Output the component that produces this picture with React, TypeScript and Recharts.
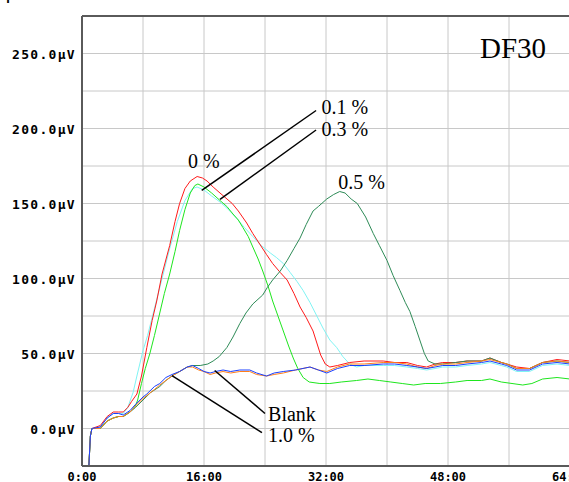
import React from 'react';
import { LineChart, Line, XAxis, YAxis, CartesianGrid, ReferenceLine, ReferenceDot } from 'recharts';

type Pt = [number, number];

// time in minutes, signal in µV
const xTicks = [0, 8, 16, 24, 32, 40, 48, 56, 64];
const yTicks = [-25, 0, 25, 50, 75, 100, 125, 150, 175, 200, 225, 250, 275];

const blank: Pt[] = [
  [0.9, -25], [1.1, -5], [1.3, 0], [2.4, 1], [3.3, 7], [4.1, 10], [4.8, 10], [5.4, 9], [6.3, 12], [7.0, 16],
  [8.0, 21], [8.5, 23], [9.5, 28], [10.2, 30], [11.0, 34], [11.8, 36], [12.8, 38], [13.8, 41], [14.5, 42],
  [15.3, 40], [16.0, 38], [16.8, 37], [17.5, 38], [18.5, 39], [19.5, 38], [20.7, 39], [22.0, 39], [22.9, 37],
  [24.2, 35], [25.2, 37], [26.4, 38], [28.0, 39], [29.9, 41], [31.0, 39], [32.1, 37], [33.5, 40], [35.1, 42],
  [37.0, 42], [39.5, 43], [41.0, 43], [42.6, 42], [44.0, 41], [45.2, 40], [46.3, 41], [47.3, 42], [49.0, 42],
  [50.5, 43], [52.4, 44], [53.5, 45], [55.0, 43], [55.7, 42], [57.0, 39], [58.7, 39], [60.4, 43], [62.3, 44], [64, 43],
];

const onePercent: Pt[] = [
  [0.9, -25], [1.1, -5], [1.3, 0], [2.4, 0], [3.3, 5], [4.1, 7], [4.8, 8], [5.4, 8], [6.3, 11], [7.0, 15],
  [8.0, 20], [8.5, 22], [9.5, 26], [10.2, 29], [11.0, 32], [11.8, 35], [12.8, 38], [13.8, 41], [14.5, 41],
  [15.3, 39], [16.0, 38], [16.8, 36], [17.5, 37], [18.5, 38], [19.5, 37], [20.7, 38], [22.0, 38], [22.9, 36],
  [24.2, 35], [25.2, 36], [26.4, 37], [28.0, 39], [29.9, 41], [31.0, 39], [32.1, 38], [33.5, 41], [35.1, 43],
  [37.0, 43], [39.5, 44], [41.0, 44], [42.6, 43], [44.0, 41], [45.2, 40], [46.3, 42], [47.3, 43], [49.0, 43],
  [50.5, 44], [52.4, 45], [53.5, 46], [55.0, 44], [55.7, 43], [57.0, 40], [58.7, 40], [60.4, 44], [62.3, 45], [64, 44],
];

const zeroPercent: Pt[] = [
  [0.9, -25], [1.1, -5], [1.3, 0], [2.4, 2], [3.3, 8], [4.1, 11], [4.8, 11], [5.4, 11], [6.0, 14], [6.5, 18],
  [7.2, 23], [7.8, 35], [8.5, 54], [9.2, 72], [9.8, 85], [10.5, 103], [11.5, 122], [12.2, 138], [12.8, 150],
  [13.5, 160], [14.2, 165], [15.1, 168], [15.8, 167], [16.4, 165], [17.2, 161], [18.1, 157], [19.7, 150],
  [20.5, 145], [21.6, 137], [22.4, 130], [23.3, 123], [24.2, 116], [25.0, 110], [26.0, 104], [26.9, 99],
  [27.8, 90], [28.6, 81], [29.4, 74], [30.3, 65], [30.8, 57], [31.3, 49], [31.9, 43], [32.5, 41], [33.5, 42],
  [35.1, 44], [37.0, 45], [39.5, 45], [41.0, 44], [42.6, 44], [44.0, 42], [45.2, 41], [46.3, 43], [47.3, 44],
  [49.0, 44], [50.5, 45], [52.4, 45], [53.5, 47], [55.0, 44], [55.7, 43], [57.0, 41], [58.7, 40], [60.4, 44],
  [62.3, 46], [64, 45],
];

const pointOne: Pt[] = [
  [0.9, -25], [1.1, -5], [1.3, 0], [2.4, 0], [3.3, 5], [4.1, 7], [4.8, 8], [5.4, 8], [6.3, 11], [7.0, 15],
  [7.3, 19], [7.8, 30], [8.3, 40], [8.9, 50], [9.5, 62], [10.2, 77], [10.8, 90], [11.5, 103], [12.2, 118],
  [12.8, 132], [13.5, 146], [14.2, 157], [14.8, 162], [15.2, 163], [16.0, 161], [17.0, 157], [18.1, 152],
  [19.0, 148], [19.8, 143], [20.5, 139], [21.1, 134], [21.8, 128], [22.4, 121], [23.1, 113], [23.7, 105],
  [24.4, 95], [25.0, 85], [25.7, 75], [26.4, 65], [27.1, 55], [27.7, 47], [28.3, 40], [29.0, 34], [29.8, 31],
  [31.2, 30], [32.5, 30], [34.0, 31], [36.0, 32], [37.5, 33], [39.0, 32], [40.5, 31], [42.0, 30], [43.5, 29],
  [45.0, 30], [47.0, 30], [49.0, 31], [50.5, 32], [52.4, 32], [53.5, 33], [55.0, 31], [57.8, 29], [59.0, 30],
  [60.4, 33], [62.3, 34], [64, 33],
];

const pointThree: Pt[] = [
  [0.9, -25], [1.1, -5], [1.3, 0], [2.4, 1], [3.3, 7], [4.1, 10], [4.8, 10], [5.4, 10], [6.0, 14], [6.7, 24],
  [7.2, 35], [8.0, 52], [8.6, 62], [9.5, 80], [10.5, 100], [11.5, 120], [12.5, 138], [13.5, 152], [14.5, 160],
  [15.1, 161], [16.0, 159], [17.0, 155], [18.1, 151], [19.2, 146], [20.3, 140], [21.3, 134], [22.4, 128],
  [23.5, 122], [24.7, 117], [25.5, 114], [26.4, 110], [27.3, 104], [28.2, 98], [29.0, 92], [29.9, 84],
  [30.8, 75], [31.6, 67], [32.5, 59], [33.4, 54], [34.2, 48], [35.1, 43], [36.0, 41], [37.0, 42], [39.5, 42],
  [41.0, 42], [42.6, 41], [44.0, 40], [45.2, 39], [46.3, 40], [47.3, 41], [49.0, 41], [50.5, 42], [52.4, 43],
  [53.5, 44], [55.0, 42], [55.7, 41], [57.0, 38], [58.7, 38], [60.4, 42], [62.3, 43], [64, 42],
];

const pointFive: Pt[] = [
  [0.9, -25], [1.1, -5], [1.3, 0], [2.4, 0], [3.3, 5], [4.1, 7], [4.8, 8], [5.4, 8], [6.3, 11], [7.0, 14],
  [8.0, 19], [9.0, 24], [10.2, 28], [11.0, 32], [11.8, 35], [12.8, 38], [13.8, 41], [14.5, 42], [15.5, 42],
  [16.5, 43], [17.2, 45], [18.0, 48], [19.0, 54], [19.8, 61], [20.7, 70], [21.5, 77], [22.4, 83], [23.7, 89],
  [24.3, 94], [25.0, 99], [26.0, 105], [26.9, 112], [27.8, 120], [28.6, 127], [29.4, 136], [30.3, 145],
  [31.0, 148], [32.1, 153], [33.0, 156], [33.8, 158], [34.5, 157], [35.3, 153], [36.1, 150], [37.2, 141],
  [38.2, 130], [39.0, 122], [40.0, 112], [40.8, 102], [41.7, 92], [42.4, 84], [43.0, 78], [43.7, 68],
  [44.3, 59], [44.9, 50], [45.4, 45], [46.3, 43], [47.3, 43], [49.0, 44], [50.5, 45], [52.4, 45], [53.5, 47],
  [55.0, 44], [55.7, 43], [57.0, 40], [58.7, 40], [60.4, 44], [62.3, 45], [64, 44],
];

// leader lines from labels to curves
const leaders = [
  { from: [30.7, 212], to: [15.7, 158.7] },
  { from: [30.7, 199], to: [18.1, 152.7] },
  { from: [17.4, 38.7], to: [24.0, 10] },
  { from: [11.8, 35.3], to: [23.6, -2.7] },
];

const notes = [
  { t: 13.9, v: 174, text: '0 %', size: 20 },
  { t: 31.4, v: 210, text: '0.1 %', size: 20 },
  { t: 31.4, v: 195.3, text: '0.3 %', size: 20 },
  { t: 33.6, v: 160, text: '0.5 %', size: 20 },
  { t: 24.4, v: 4.7, text: 'Blank', size: 20 },
  { t: 24.4, v: -8.7, text: '1.0 %', size: 20 },
  { t: 52.2, v: 247.3, text: 'DF30', size: 29 },
];

const toPts = (a: Pt[]) => a.map(([t, v]) => ({ t, v }));

const series = [
  { name: '0.3 %', data: pointThree, color: '#7ff4f4' },
  { name: '0 %', data: zeroPercent, color: '#ff1a1a' },
  { name: '0.1 %', data: pointOne, color: '#1ee61e' },
  { name: '0.5 %', data: pointFive, color: '#2e8b57' },
  { name: '1.0 %', data: onePercent, color: '#ff7f1a' },
  { name: 'Blank', data: blank, color: '#1a40ff' },
];

const mono = 'DejaVu Sans Mono';
const frame = '#5a5a5a';

const XTick = (props: any) => {
  const { x, y, payload } = props;
  if (payload.value % 16 !== 0) return <g />;
  return (
    <text x={x} y={y + 15} textAnchor="middle" fontFamily={mono} fontWeight="bold" fontSize={12} fill="#000">
      {`${payload.value}:00`}
    </text>
  );
};

const YTick = (props: any) => {
  const { x, y, payload } = props;
  const v = payload.value;
  if (v % 50 !== 0 || v < 0 || v > 250) return <g />;
  return (
    <text x={x - 6} y={y + 5} textAnchor="end" fontFamily={mono} fontWeight="bold" fontSize={13} letterSpacing={1.3} fill="#000">
      {`${v.toFixed(1)}μV`}
    </text>
  );
};

export default function App() {
  return (
    <div style={{ position: 'absolute', left: 0, top: 0, width: 569, height: 482, overflow: 'hidden', background: '#fff' }}>
      <span style={{ position: 'absolute', left: 6, top: -12, fontFamily: mono, fontWeight: 'bold', fontSize: 13 }}>μV</span>
      <LineChart width={580} height={482} margin={{ top: 16, right: 10, bottom: 0, left: 0 }}>
        <CartesianGrid stroke="#c8c8c8" strokeWidth={1} />
        <XAxis
          type="number"
          dataKey="t"
          domain={[0, 64]}
          ticks={xTicks}
          height={16}
          tickSize={0}
          tickMargin={0}
          tickLine={false}
          axisLine={{ stroke: frame, strokeWidth: 2 }}
          tick={<XTick />}
          allowDataOverflow
        />
        <YAxis
          type="number"
          dataKey="v"
          domain={[-25, 275]}
          ticks={yTicks}
          width={82}
          tickSize={0}
          tickMargin={0}
          tickLine={false}
          axisLine={{ stroke: frame, strokeWidth: 2 }}
          tick={<YTick />}
          allowDataOverflow
        />
        <ReferenceLine y={275} stroke={frame} strokeWidth={2} />
        {series.map((s) => (
          <Line
            key={s.name}
            name={s.name}
            data={toPts(s.data)}
            dataKey="v"
            type="linear"
            stroke={s.color}
            strokeWidth={1}
            dot={false}
            activeDot={false}
            isAnimationActive={false}
          />
        ))}
        {leaders.map((l, i) => (
          <ReferenceLine
            key={i}
            segment={[{ x: l.from[0], y: l.from[1] }, { x: l.to[0], y: l.to[1] }]}
            stroke="#000"
            strokeWidth={1.5}
          />
        ))}
        {notes.map((n) => (
          <ReferenceDot
            key={n.text}
            x={n.t}
            y={n.v}
            r={0}
            shape={(p: any) => (
              <text x={p.cx} y={p.cy} fontFamily="Liberation Serif" fontSize={n.size} fill="#000">
                {n.text}
              </text>
            )}
          />
        ))}
      </LineChart>
    </div>
  );
}
